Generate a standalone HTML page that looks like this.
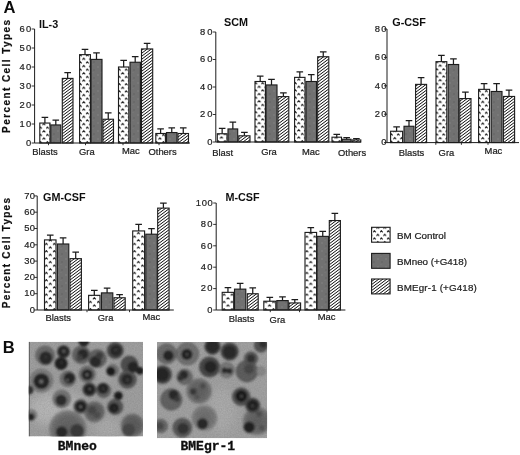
<!DOCTYPE html>
<html><head><meta charset="utf-8"><title>Figure</title>
<style>
html,body{margin:0;padding:0;background:#fff;}
body{width:520px;height:455px;overflow:hidden;font-family:"Liberation Sans",sans-serif;}
svg{display:block;}
.lb{font:9.4px "Liberation Sans",sans-serif;fill:#222;stroke:#222;stroke-width:0.22px;}
.tk{font:9.4px "Liberation Sans",sans-serif;fill:#222;stroke:#222;stroke-width:0.2px;letter-spacing:0.6px;}
.tt{font:bold 10.8px "Liberation Sans",sans-serif;fill:#111;}
.yl{font:bold 10px "Liberation Sans",sans-serif;fill:#111;stroke:#111;stroke-width:0.2px;letter-spacing:1.2px;}
.pn{font:bold 16.6px "Liberation Sans",sans-serif;fill:#111;}
.lg{font:9.8px "Liberation Sans",sans-serif;fill:#222;stroke:#222;stroke-width:0.22px;}
.mo{font:bold 13px "Liberation Mono",monospace;fill:#111;stroke:#111;stroke-width:0.35px;}
</style></head><body>
<svg width="520" height="455" viewBox="0 0 520 455">
<defs>
<g id="dotTile"><rect width="6.9" height="7.25" fill="#fff"/><path d="M-0.1 2.2L1.3 0.55L2.7 2.2M3.35 5.83L4.75 4.17L6.15 5.83" stroke="#1a1a1a" stroke-width="1.05" fill="none"/></g>
<g id="dotTile2"><rect width="7.9" height="7.25" fill="#fff"/><path d="M-0.1 2.2L1.3 0.55L2.7 2.2M3.85 5.83L5.25 4.17L6.65 5.83" stroke="#1a1a1a" stroke-width="1.05" fill="none"/></g>
<g id="hatchTile"><rect width="4" height="3" fill="#fff"/><path d="M-1 0.750L5.000 -3.750M-1 3.750L5.000 -0.750M-1 6.750L5.000 2.250" stroke="#0c0c0c" stroke-width="1.0" fill="none"/></g>
<pattern id="pDot" x="373.1" y="230.1" width="6.9" height="7.25" patternUnits="userSpaceOnUse"><use href="#dotTile"/></pattern>
<pattern id="pGrey" width="8" height="8" patternUnits="userSpaceOnUse"><rect width="8" height="8" fill="#717171"/><rect x="1" y="2" width="2" height="2" fill="#797979"/><rect x="5" y="5" width="2" height="2" fill="#6a6a6a"/><rect x="4" y="0" width="2" height="1" fill="#767676"/></pattern>
<pattern id="pHatch" x="371" y="279" width="4" height="3" patternUnits="userSpaceOnUse"><use href="#hatchTile"/></pattern>
<pattern id="d1" x="39.20" y="141.00" width="6.9" height="7.25" patternUnits="userSpaceOnUse"><use href="#dotTile"/></pattern>
<pattern id="h2" x="62" y="143" width="4" height="3" patternUnits="userSpaceOnUse"><use href="#hatchTile"/></pattern>
<pattern id="d3" x="79.00" y="141.00" width="6.9" height="7.25" patternUnits="userSpaceOnUse"><use href="#dotTile"/></pattern>
<pattern id="h4" x="103" y="143" width="4" height="3" patternUnits="userSpaceOnUse"><use href="#hatchTile"/></pattern>
<pattern id="d5" x="117.90" y="141.00" width="6.9" height="7.25" patternUnits="userSpaceOnUse"><use href="#dotTile"/></pattern>
<pattern id="h6" x="142" y="143" width="4" height="3" patternUnits="userSpaceOnUse"><use href="#hatchTile"/></pattern>
<pattern id="d7" x="155.20" y="141.00" width="6.9" height="7.25" patternUnits="userSpaceOnUse"><use href="#dotTile"/></pattern>
<pattern id="h8" x="178" y="143" width="4" height="3" patternUnits="userSpaceOnUse"><use href="#hatchTile"/></pattern>
<pattern id="d9" x="216.70" y="140.00" width="6.9" height="7.25" patternUnits="userSpaceOnUse"><use href="#dotTile"/></pattern>
<pattern id="h10" x="239" y="142" width="4" height="3" patternUnits="userSpaceOnUse"><use href="#hatchTile"/></pattern>
<pattern id="d11" x="254.40" y="140.00" width="6.9" height="7.25" patternUnits="userSpaceOnUse"><use href="#dotTile"/></pattern>
<pattern id="h12" x="278" y="142" width="4" height="3" patternUnits="userSpaceOnUse"><use href="#hatchTile"/></pattern>
<pattern id="d13" x="294.00" y="140.00" width="6.9" height="7.25" patternUnits="userSpaceOnUse"><use href="#dotTile"/></pattern>
<pattern id="h14" x="318" y="142" width="4" height="3" patternUnits="userSpaceOnUse"><use href="#hatchTile"/></pattern>
<pattern id="d15" x="331.40" y="140.00" width="6.9" height="7.25" patternUnits="userSpaceOnUse"><use href="#dotTile"/></pattern>
<pattern id="h16" x="352" y="142" width="4" height="3" patternUnits="userSpaceOnUse"><use href="#hatchTile"/></pattern>
<pattern id="d17" x="390.00" y="140.60" width="6.9" height="7.25" patternUnits="userSpaceOnUse"><use href="#dotTile"/></pattern>
<pattern id="h18" x="416" y="143" width="4" height="3" patternUnits="userSpaceOnUse"><use href="#hatchTile"/></pattern>
<pattern id="d19" x="435.40" y="140.60" width="6.9" height="7.25" patternUnits="userSpaceOnUse"><use href="#dotTile"/></pattern>
<pattern id="h20" x="460" y="143" width="4" height="3" patternUnits="userSpaceOnUse"><use href="#hatchTile"/></pattern>
<pattern id="d21" x="478.00" y="140.60" width="6.9" height="7.25" patternUnits="userSpaceOnUse"><use href="#dotTile"/></pattern>
<pattern id="h22" x="503" y="143" width="4" height="3" patternUnits="userSpaceOnUse"><use href="#hatchTile"/></pattern>
<pattern id="d23" x="45.00" y="308.00" width="7.9" height="7.25" patternUnits="userSpaceOnUse"><use href="#dotTile2"/></pattern>
<pattern id="h24" x="70" y="310" width="4" height="3" patternUnits="userSpaceOnUse"><use href="#hatchTile"/></pattern>
<pattern id="d25" x="89.10" y="308.00" width="7.9" height="7.25" patternUnits="userSpaceOnUse"><use href="#dotTile2"/></pattern>
<pattern id="h26" x="114" y="310" width="4" height="3" patternUnits="userSpaceOnUse"><use href="#hatchTile"/></pattern>
<pattern id="d27" x="133.20" y="308.00" width="7.9" height="7.25" patternUnits="userSpaceOnUse"><use href="#dotTile2"/></pattern>
<pattern id="h28" x="158" y="310" width="4" height="3" patternUnits="userSpaceOnUse"><use href="#hatchTile"/></pattern>
<pattern id="d29" x="222.70" y="308.00" width="7.9" height="7.25" patternUnits="userSpaceOnUse"><use href="#dotTile2"/></pattern>
<pattern id="h30" x="247" y="310" width="4" height="3" patternUnits="userSpaceOnUse"><use href="#hatchTile"/></pattern>
<pattern id="d31" x="264.30" y="308.00" width="7.9" height="7.25" patternUnits="userSpaceOnUse"><use href="#dotTile2"/></pattern>
<pattern id="h32" x="289" y="310" width="4" height="3" patternUnits="userSpaceOnUse"><use href="#hatchTile"/></pattern>
<pattern id="d33" x="305.50" y="308.00" width="7.9" height="7.25" patternUnits="userSpaceOnUse"><use href="#dotTile2"/></pattern>
<pattern id="h34" x="329" y="310" width="4" height="3" patternUnits="userSpaceOnUse"><use href="#hatchTile"/></pattern>
<filter id="bl" x="-5%" y="-5%" width="110%" height="110%"><feGaussianBlur stdDeviation="0.8"/></filter>
<filter id="soft" x="0" y="0" width="520" height="455" filterUnits="userSpaceOnUse"><feGaussianBlur stdDeviation="0.32"/></filter>
<filter id="grain" x="0" y="0" width="100%" height="100%"><feTurbulence type="fractalNoise" baseFrequency="0.7" numOctaves="2" seed="7" result="n"/><feColorMatrix in="n" type="matrix" values="0 0 0 0 0  0 0 0 0 0  0 0 0 0 0  0.9 0.9 0.9 0 -0.95"/></filter>
<filter id="bl3" x="-20%" y="-20%" width="140%" height="140%"><feGaussianBlur stdDeviation="5"/></filter>
<linearGradient id="bg1" x1="0" y1="0" x2="0.5" y2="1"><stop offset="0" stop-color="#9a9a9a"/><stop offset="0.45" stop-color="#a9a9a9"/><stop offset="1" stop-color="#c9c9c9"/></linearGradient>
<linearGradient id="bg2" x1="0" y1="0" x2="0" y2="1"><stop offset="0" stop-color="#a2a2a2"/><stop offset="1" stop-color="#b2b2b2"/></linearGradient>
<clipPath id="c1"><rect x="28.7" y="341.8" width="114.3" height="94.7"/></clipPath>
<clipPath id="c2"><rect x="157" y="342" width="110.1" height="96.2"/></clipPath>
</defs>
<rect width="520" height="455" fill="#fff"/>
<rect x="39.80" y="123.05" width="10.20" height="19.95" fill="url(#d1)" stroke="#1c1c1c" stroke-width="1.12"/>
<path d="M44.90 123.05V117.35M41.60 117.35H48.20" stroke="#1c1c1c" stroke-width="1.25" fill="none"/>
<rect x="50.80" y="124.95" width="10.00" height="18.05" fill="url(#pGrey)" stroke="#1c1c1c" stroke-width="1.12"/>
<path d="M55.80 124.95V120.20M52.50 120.20H59.10" stroke="#1c1c1c" stroke-width="1.25" fill="none"/>
<rect x="62.30" y="78.40" width="10.70" height="64.60" fill="url(#h2)" stroke="#1c1c1c" stroke-width="1.12"/>
<path d="M67.65 78.40V72.70M64.35 72.70H70.95" stroke="#1c1c1c" stroke-width="1.25" fill="none"/>
<rect x="79.60" y="54.65" width="10.80" height="88.35" fill="url(#d3)" stroke="#1c1c1c" stroke-width="1.12"/>
<path d="M85.00 54.65V49.33M81.70 49.33H88.30" stroke="#1c1c1c" stroke-width="1.25" fill="none"/>
<rect x="91.00" y="59.40" width="11.00" height="83.60" fill="url(#pGrey)" stroke="#1c1c1c" stroke-width="1.12"/>
<path d="M96.50 59.40V52.75M93.20 52.75H99.80" stroke="#1c1c1c" stroke-width="1.25" fill="none"/>
<rect x="103.00" y="119.25" width="10.50" height="23.75" fill="url(#h4)" stroke="#1c1c1c" stroke-width="1.12"/>
<path d="M108.25 119.25V112.98M104.95 112.98H111.55" stroke="#1c1c1c" stroke-width="1.25" fill="none"/>
<rect x="118.50" y="67.00" width="10.30" height="76.00" fill="url(#d5)" stroke="#1c1c1c" stroke-width="1.12"/>
<path d="M123.65 67.00V60.35M120.35 60.35H126.95" stroke="#1c1c1c" stroke-width="1.25" fill="none"/>
<rect x="130.00" y="62.25" width="10.40" height="80.75" fill="url(#pGrey)" stroke="#1c1c1c" stroke-width="1.12"/>
<path d="M135.20 62.25V56.55M131.90 56.55H138.50" stroke="#1c1c1c" stroke-width="1.25" fill="none"/>
<rect x="141.50" y="48.95" width="11.20" height="94.05" fill="url(#h6)" stroke="#1c1c1c" stroke-width="1.12"/>
<path d="M147.10 48.95V43.25M143.80 43.25H150.40" stroke="#1c1c1c" stroke-width="1.25" fill="none"/>
<rect x="155.80" y="133.50" width="9.60" height="9.50" fill="url(#d7)" stroke="#1c1c1c" stroke-width="1.12"/>
<path d="M160.60 133.50V128.75M157.30 128.75H163.90" stroke="#1c1c1c" stroke-width="1.25" fill="none"/>
<rect x="166.50" y="132.55" width="10.50" height="10.45" fill="url(#pGrey)" stroke="#1c1c1c" stroke-width="1.12"/>
<path d="M171.75 132.55V127.80M168.45 127.80H175.05" stroke="#1c1c1c" stroke-width="1.25" fill="none"/>
<rect x="178.00" y="133.50" width="10.50" height="9.50" fill="url(#h8)" stroke="#1c1c1c" stroke-width="1.12"/>
<path d="M183.25 133.50V127.80M179.95 127.80H186.55" stroke="#1c1c1c" stroke-width="1.25" fill="none"/>
<path d="M34.6 29.00V143.00H190" stroke="#1c1c1c" stroke-width="1" fill="none"/>
<path d="M31.60 143.00H34.6" stroke="#1c1c1c" stroke-width="0.9"/>
<path d="M31.60 124.00H34.6" stroke="#1c1c1c" stroke-width="0.9"/>
<path d="M31.60 105.00H34.6" stroke="#1c1c1c" stroke-width="0.9"/>
<path d="M31.60 86.00H34.6" stroke="#1c1c1c" stroke-width="0.9"/>
<path d="M31.60 67.00H34.6" stroke="#1c1c1c" stroke-width="0.9"/>
<path d="M31.60 48.00H34.6" stroke="#1c1c1c" stroke-width="0.9"/>
<path d="M31.60 29.00H34.6" stroke="#1c1c1c" stroke-width="0.9"/>
<path d="M48.5 143.00v2.2" stroke="#1c1c1c" stroke-width="0.9"/>
<path d="M85.5 143.00v2.2" stroke="#1c1c1c" stroke-width="0.9"/>
<path d="M123 143.00v2.2" stroke="#1c1c1c" stroke-width="0.9"/>
<path d="M159 143.00v2.2" stroke="#1c1c1c" stroke-width="0.9"/>
<rect x="217.30" y="133.75" width="9.70" height="8.25" fill="url(#d9)" stroke="#1c1c1c" stroke-width="1.12"/>
<path d="M222.15 133.75V128.25M218.85 128.25H225.45" stroke="#1c1c1c" stroke-width="1.25" fill="none"/>
<rect x="228.00" y="128.94" width="9.70" height="13.06" fill="url(#pGrey)" stroke="#1c1c1c" stroke-width="1.12"/>
<path d="M232.85 128.94V122.06M229.55 122.06H236.15" stroke="#1c1c1c" stroke-width="1.25" fill="none"/>
<rect x="238.80" y="135.81" width="11.20" height="6.19" fill="url(#h10)" stroke="#1c1c1c" stroke-width="1.12"/>
<path d="M244.40 135.81V132.38M241.10 132.38H247.70" stroke="#1c1c1c" stroke-width="1.25" fill="none"/>
<rect x="255.00" y="81.50" width="10.40" height="60.50" fill="url(#d11)" stroke="#1c1c1c" stroke-width="1.12"/>
<path d="M260.20 81.50V76.00M256.90 76.00H263.50" stroke="#1c1c1c" stroke-width="1.25" fill="none"/>
<rect x="266.00" y="84.94" width="11.00" height="57.06" fill="url(#pGrey)" stroke="#1c1c1c" stroke-width="1.12"/>
<path d="M271.50 84.94V79.44M268.20 79.44H274.80" stroke="#1c1c1c" stroke-width="1.25" fill="none"/>
<rect x="278.00" y="96.62" width="10.80" height="45.38" fill="url(#h12)" stroke="#1c1c1c" stroke-width="1.12"/>
<path d="M283.40 96.62V92.78M280.10 92.78H286.70" stroke="#1c1c1c" stroke-width="1.25" fill="none"/>
<rect x="294.60" y="77.38" width="10.40" height="64.62" fill="url(#d13)" stroke="#1c1c1c" stroke-width="1.12"/>
<path d="M299.80 77.38V71.88M296.50 71.88H303.10" stroke="#1c1c1c" stroke-width="1.25" fill="none"/>
<rect x="306.00" y="81.50" width="10.50" height="60.50" fill="url(#pGrey)" stroke="#1c1c1c" stroke-width="1.12"/>
<path d="M311.25 81.50V74.62M307.95 74.62H314.55" stroke="#1c1c1c" stroke-width="1.25" fill="none"/>
<rect x="317.70" y="56.75" width="11.10" height="85.25" fill="url(#h14)" stroke="#1c1c1c" stroke-width="1.12"/>
<path d="M323.25 56.75V51.94M319.95 51.94H326.55" stroke="#1c1c1c" stroke-width="1.25" fill="none"/>
<rect x="332.00" y="137.19" width="9.50" height="4.81" fill="url(#d15)" stroke="#1c1c1c" stroke-width="1.12"/>
<path d="M336.75 137.19V134.44M333.45 134.44H340.05" stroke="#1c1c1c" stroke-width="1.25" fill="none"/>
<rect x="342.30" y="139.25" width="8.70" height="2.75" fill="url(#pGrey)" stroke="#1c1c1c" stroke-width="1.12"/>
<path d="M346.65 139.25V137.60M343.35 137.60H349.95" stroke="#1c1c1c" stroke-width="1.25" fill="none"/>
<rect x="352.00" y="139.94" width="8.80" height="2.06" fill="url(#h16)" stroke="#1c1c1c" stroke-width="1.12"/>
<path d="M356.40 139.94V138.56M353.10 138.56H359.70" stroke="#1c1c1c" stroke-width="1.25" fill="none"/>
<path d="M215.8 32.00V142.00H361" stroke="#1c1c1c" stroke-width="1" fill="none"/>
<path d="M212.80 142.00H215.8" stroke="#1c1c1c" stroke-width="0.9"/>
<path d="M212.80 114.50H215.8" stroke="#1c1c1c" stroke-width="0.9"/>
<path d="M212.80 87.00H215.8" stroke="#1c1c1c" stroke-width="0.9"/>
<path d="M212.80 59.50H215.8" stroke="#1c1c1c" stroke-width="0.9"/>
<path d="M212.80 32.00H215.8" stroke="#1c1c1c" stroke-width="0.9"/>
<rect x="390.60" y="131.24" width="12.00" height="11.36" fill="url(#d17)" stroke="#1c1c1c" stroke-width="1.12"/>
<path d="M396.60 131.24V126.98M393.30 126.98H399.90" stroke="#1c1c1c" stroke-width="1.25" fill="none"/>
<rect x="404.00" y="126.27" width="10.00" height="16.33" fill="url(#pGrey)" stroke="#1c1c1c" stroke-width="1.12"/>
<path d="M409.00 126.27V120.59M405.70 120.59H412.30" stroke="#1c1c1c" stroke-width="1.25" fill="none"/>
<rect x="415.60" y="84.38" width="11.00" height="58.22" fill="url(#h18)" stroke="#1c1c1c" stroke-width="1.12"/>
<path d="M421.10 84.38V77.56M417.80 77.56H424.40" stroke="#1c1c1c" stroke-width="1.25" fill="none"/>
<rect x="436.00" y="61.66" width="10.80" height="80.94" fill="url(#d19)" stroke="#1c1c1c" stroke-width="1.12"/>
<path d="M441.40 61.66V55.27M438.10 55.27H444.70" stroke="#1c1c1c" stroke-width="1.25" fill="none"/>
<rect x="448.20" y="64.50" width="10.50" height="78.10" fill="url(#pGrey)" stroke="#1c1c1c" stroke-width="1.12"/>
<path d="M453.45 64.50V58.82M450.15 58.82H456.75" stroke="#1c1c1c" stroke-width="1.25" fill="none"/>
<rect x="459.80" y="98.58" width="11.20" height="44.02" fill="url(#h20)" stroke="#1c1c1c" stroke-width="1.12"/>
<path d="M465.40 98.58V92.19M462.10 92.19H468.70" stroke="#1c1c1c" stroke-width="1.25" fill="none"/>
<rect x="478.60" y="89.35" width="11.00" height="53.25" fill="url(#d21)" stroke="#1c1c1c" stroke-width="1.12"/>
<path d="M484.10 89.35V83.67M480.80 83.67H487.40" stroke="#1c1c1c" stroke-width="1.25" fill="none"/>
<rect x="491.20" y="91.48" width="10.80" height="51.12" fill="url(#pGrey)" stroke="#1c1c1c" stroke-width="1.12"/>
<path d="M496.60 91.48V83.67M493.30 83.67H499.90" stroke="#1c1c1c" stroke-width="1.25" fill="none"/>
<rect x="503.40" y="96.45" width="11.20" height="46.15" fill="url(#h22)" stroke="#1c1c1c" stroke-width="1.12"/>
<path d="M509.00 96.45V90.06M505.70 90.06H512.30" stroke="#1c1c1c" stroke-width="1.25" fill="none"/>
<path d="M387.0 29.00V142.60H519" stroke="#1c1c1c" stroke-width="1" fill="none"/>
<path d="M384.00 142.60H387.0" stroke="#1c1c1c" stroke-width="0.9"/>
<path d="M384.00 114.20H387.0" stroke="#1c1c1c" stroke-width="0.9"/>
<path d="M384.00 85.80H387.0" stroke="#1c1c1c" stroke-width="0.9"/>
<path d="M384.00 57.40H387.0" stroke="#1c1c1c" stroke-width="0.9"/>
<path d="M384.00 29.00H387.0" stroke="#1c1c1c" stroke-width="0.9"/>
<path d="M435.8 142.60v2.2" stroke="#1c1c1c" stroke-width="0.9"/>
<path d="M461.4 142.60v2.2" stroke="#1c1c1c" stroke-width="0.9"/>
<path d="M488 142.60v2.2" stroke="#1c1c1c" stroke-width="0.9"/>
<rect x="44.50" y="239.91" width="11.50" height="70.09" fill="url(#d23)" stroke="#1c1c1c" stroke-width="1.12"/>
<path d="M50.25 239.91V235.02M46.95 235.02H53.55" stroke="#1c1c1c" stroke-width="1.25" fill="none"/>
<rect x="57.40" y="243.99" width="11.40" height="66.01" fill="url(#pGrey)" stroke="#1c1c1c" stroke-width="1.12"/>
<path d="M63.10 243.99V237.79M59.80 237.79H66.40" stroke="#1c1c1c" stroke-width="1.25" fill="none"/>
<rect x="70.00" y="258.65" width="11.40" height="51.35" fill="url(#h24)" stroke="#1c1c1c" stroke-width="1.12"/>
<path d="M75.70 258.65V252.13M72.40 252.13H79.00" stroke="#1c1c1c" stroke-width="1.25" fill="none"/>
<rect x="88.60" y="295.33" width="11.40" height="14.67" fill="url(#d25)" stroke="#1c1c1c" stroke-width="1.12"/>
<path d="M94.30 295.33V290.44M91.00 290.44H97.60" stroke="#1c1c1c" stroke-width="1.25" fill="none"/>
<rect x="101.40" y="292.88" width="11.40" height="17.12" fill="url(#pGrey)" stroke="#1c1c1c" stroke-width="1.12"/>
<path d="M107.10 292.88V288.00M103.80 288.00H110.40" stroke="#1c1c1c" stroke-width="1.25" fill="none"/>
<rect x="114.00" y="297.77" width="11.20" height="12.23" fill="url(#h26)" stroke="#1c1c1c" stroke-width="1.12"/>
<path d="M119.60 297.77V294.51M116.30 294.51H122.90" stroke="#1c1c1c" stroke-width="1.25" fill="none"/>
<rect x="132.70" y="230.94" width="11.90" height="79.06" fill="url(#d27)" stroke="#1c1c1c" stroke-width="1.12"/>
<path d="M138.65 230.94V224.42M135.35 224.42H141.95" stroke="#1c1c1c" stroke-width="1.25" fill="none"/>
<rect x="145.80" y="234.20" width="11.40" height="75.80" fill="url(#pGrey)" stroke="#1c1c1c" stroke-width="1.12"/>
<path d="M151.50 234.20V228.50M148.20 228.50H154.80" stroke="#1c1c1c" stroke-width="1.25" fill="none"/>
<rect x="157.70" y="208.12" width="11.40" height="101.88" fill="url(#h28)" stroke="#1c1c1c" stroke-width="1.12"/>
<path d="M163.40 208.12V203.24M160.10 203.24H166.70" stroke="#1c1c1c" stroke-width="1.25" fill="none"/>
<path d="M37.2 195.90V310.00H173.8" stroke="#1c1c1c" stroke-width="1" fill="none"/>
<path d="M34.20 310.00H37.2" stroke="#1c1c1c" stroke-width="0.9"/>
<path d="M34.20 293.70H37.2" stroke="#1c1c1c" stroke-width="0.9"/>
<path d="M34.20 277.40H37.2" stroke="#1c1c1c" stroke-width="0.9"/>
<path d="M34.20 261.10H37.2" stroke="#1c1c1c" stroke-width="0.9"/>
<path d="M34.20 244.80H37.2" stroke="#1c1c1c" stroke-width="0.9"/>
<path d="M34.20 228.50H37.2" stroke="#1c1c1c" stroke-width="0.9"/>
<path d="M34.20 212.20H37.2" stroke="#1c1c1c" stroke-width="0.9"/>
<path d="M34.20 195.90H37.2" stroke="#1c1c1c" stroke-width="0.9"/>
<path d="M87 310.00v2.2" stroke="#1c1c1c" stroke-width="0.9"/>
<path d="M129.5 310.00v2.2" stroke="#1c1c1c" stroke-width="0.9"/>
<rect x="222.20" y="292.35" width="11.50" height="17.65" fill="url(#d29)" stroke="#1c1c1c" stroke-width="1.12"/>
<path d="M227.95 292.35V287.53M224.65 287.53H231.25" stroke="#1c1c1c" stroke-width="1.25" fill="none"/>
<rect x="234.50" y="289.13" width="11.30" height="20.87" fill="url(#pGrey)" stroke="#1c1c1c" stroke-width="1.12"/>
<path d="M240.15 289.13V283.25M236.85 283.25H243.45" stroke="#1c1c1c" stroke-width="1.25" fill="none"/>
<rect x="247.30" y="293.74" width="10.90" height="16.26" fill="url(#h30)" stroke="#1c1c1c" stroke-width="1.12"/>
<path d="M252.75 293.74V287.85M249.45 287.85H256.05" stroke="#1c1c1c" stroke-width="1.25" fill="none"/>
<rect x="263.80" y="301.23" width="12.00" height="8.77" fill="url(#d31)" stroke="#1c1c1c" stroke-width="1.12"/>
<path d="M269.80 301.23V297.48M266.50 297.48H273.10" stroke="#1c1c1c" stroke-width="1.25" fill="none"/>
<rect x="276.80" y="300.58" width="11.40" height="9.42" fill="url(#pGrey)" stroke="#1c1c1c" stroke-width="1.12"/>
<path d="M282.50 300.58V296.84M279.20 296.84H285.80" stroke="#1c1c1c" stroke-width="1.25" fill="none"/>
<rect x="289.00" y="302.94" width="11.60" height="7.06" fill="url(#h32)" stroke="#1c1c1c" stroke-width="1.12"/>
<path d="M294.80 302.94V299.73M291.50 299.73H298.10" stroke="#1c1c1c" stroke-width="1.25" fill="none"/>
<rect x="305.00" y="232.43" width="11.60" height="77.57" fill="url(#d33)" stroke="#1c1c1c" stroke-width="1.12"/>
<path d="M310.80 232.43V227.61M307.50 227.61H314.10" stroke="#1c1c1c" stroke-width="1.25" fill="none"/>
<rect x="317.00" y="236.38" width="11.50" height="73.62" fill="url(#pGrey)" stroke="#1c1c1c" stroke-width="1.12"/>
<path d="M322.75 236.38V231.25M319.45 231.25H326.05" stroke="#1c1c1c" stroke-width="1.25" fill="none"/>
<rect x="329.30" y="220.55" width="11.10" height="89.45" fill="url(#h34)" stroke="#1c1c1c" stroke-width="1.12"/>
<path d="M334.85 220.55V213.27M331.55 213.27H338.15" stroke="#1c1c1c" stroke-width="1.25" fill="none"/>
<path d="M216.2 203.00V310.00H345.4" stroke="#1c1c1c" stroke-width="1" fill="none"/>
<path d="M213.20 310.00H216.2" stroke="#1c1c1c" stroke-width="0.9"/>
<path d="M213.20 288.60H216.2" stroke="#1c1c1c" stroke-width="0.9"/>
<path d="M213.20 267.20H216.2" stroke="#1c1c1c" stroke-width="0.9"/>
<path d="M213.20 245.80H216.2" stroke="#1c1c1c" stroke-width="0.9"/>
<path d="M213.20 224.40H216.2" stroke="#1c1c1c" stroke-width="0.9"/>
<path d="M213.20 203.00H216.2" stroke="#1c1c1c" stroke-width="0.9"/>
<path d="M270.3 310.00v2.2" stroke="#1c1c1c" stroke-width="0.9"/>
<path d="M299.5 310.00v2.2" stroke="#1c1c1c" stroke-width="0.9"/>
<path d="M327 310.00v2.2" stroke="#1c1c1c" stroke-width="0.9"/>
<rect x="371.6" y="227.3" width="18.5" height="14.9" fill="url(#pDot)" stroke="#1c1c1c" stroke-width="1.1"/>
<rect x="371.6" y="253.4" width="18.5" height="14.9" fill="url(#pGrey)" stroke="#1c1c1c" stroke-width="1.1"/>
<rect x="371.6" y="279.0" width="18.5" height="14.9" fill="url(#pHatch)" stroke="#1c1c1c" stroke-width="1.1"/>
<g clip-path="url(#c1)"><rect x="28.7" y="341.8" width="114.3" height="94.7" fill="#a0a0a0"/>
<g filter="url(#bl3)"><ellipse cx="58" cy="409" rx="30" ry="17" fill="#b6b6b6"/><ellipse cx="108" cy="428" rx="14" ry="10" fill="#acacac"/><ellipse cx="104" cy="374" rx="6" ry="8" fill="#adadad"/></g>
<g filter="url(#bl)">
<circle cx="45.1" cy="355.4" r="9.50" fill="#6c6c6c" stroke="#4e4e4e" stroke-width="0.6"/>
<circle cx="63.5" cy="351.7" r="6.30" fill="#545454" stroke="#3c3c3c" stroke-width="0.6"/>
<circle cx="61.1" cy="363.4" r="6.30" fill="#454545" stroke="#323232" stroke-width="0.6"/>
<circle cx="81.4" cy="354.8" r="8.90" fill="#646464" stroke="#484848" stroke-width="0.6"/>
<circle cx="41.4" cy="380.6" r="11.40" fill="#808080" stroke="#5c5c5c" stroke-width="0.6"/>
<circle cx="67.8" cy="378.8" r="7.70" fill="#717171" stroke="#515151" stroke-width="0.6"/>
<circle cx="87.2" cy="374.2" r="8.10" fill="#717171" stroke="#515151" stroke-width="0.6"/>
<circle cx="83.8" cy="341.0" r="5.20" fill="#272727" stroke="#1c1c1c" stroke-width="0.6"/>
<circle cx="97.4" cy="358.5" r="8.90" fill="#636363" stroke="#474747" stroke-width="0.6"/>
<circle cx="115.2" cy="350.5" r="8.10" fill="#4e4e4e" stroke="#383838" stroke-width="0.6"/>
<circle cx="129.4" cy="364.6" r="8.50" fill="#4f4f4f" stroke="#393939" stroke-width="0.6"/>
<circle cx="139.8" cy="370.8" r="3.50" fill="#202020" stroke="#171717" stroke-width="0.6"/>
<circle cx="112.8" cy="370.2" r="5.90" fill="#777777" stroke="#565656" stroke-width="0.6"/>
<circle cx="127.5" cy="379.4" r="8.90" fill="#595959" stroke="#404040" stroke-width="0.6"/>
<circle cx="89.4" cy="389.5" r="6.70" fill="#525252" stroke="#3b3b3b" stroke-width="0.6"/>
<circle cx="103.5" cy="390.5" r="7.20" fill="#646464" stroke="#484848" stroke-width="0.6"/>
<circle cx="61.7" cy="398.9" r="8.90" fill="#777777" stroke="#565656" stroke-width="0.6"/>
<circle cx="80.8" cy="406.5" r="7.10" fill="#636363" stroke="#474747" stroke-width="0.6"/>
<circle cx="31.5" cy="414.9" r="5.20" fill="#808080" stroke="#5c5c5c" stroke-width="0.6"/>
<circle cx="29.3" cy="390.0" r="3.90" fill="#363636" stroke="#272727" stroke-width="0.6"/>
<radialGradient id="fz678"><stop offset="0" stop-color="#626262"/><stop offset="0.62" stop-color="#6a6a6a"/><stop offset="0.86" stop-color="#6a6a6a" stop-opacity="0.75"/><stop offset="1" stop-color="#6a6a6a" stop-opacity="0"/></radialGradient>
<circle cx="67.8" cy="428.8" r="19.98" fill="url(#fz678)"/>
<circle cx="118.3" cy="395.8" r="4.10" fill="#363636" stroke="#272727" stroke-width="0.6"/>
<circle cx="115.2" cy="406.9" r="7.70" fill="#565656" stroke="#3e3e3e" stroke-width="0.6"/>
<radialGradient id="fz943"><stop offset="0" stop-color="#595959"/><stop offset="0.62" stop-color="#616161"/><stop offset="0.86" stop-color="#616161" stop-opacity="0.75"/><stop offset="1" stop-color="#616161" stop-opacity="0"/></radialGradient>
<circle cx="94.3" cy="411.8" r="11.34" fill="url(#fz943)"/>
<radialGradient id="fz1325"><stop offset="0" stop-color="#595959"/><stop offset="0.62" stop-color="#616161"/><stop offset="0.86" stop-color="#616161" stop-opacity="0.75"/><stop offset="1" stop-color="#616161" stop-opacity="0"/></radialGradient>
<circle cx="132.5" cy="425.4" r="12.64" fill="url(#fz1325)"/>
<circle cx="45.7" cy="357.8" r="6.57" fill="#2a2a2a"/>
<circle cx="46" cy="357" r="1.04" fill="#3f3f3f"/>
<circle cx="63.5" cy="351.7" r="5.62" fill="#262626"/>
<circle cx="63.8" cy="351.2" r="1.44" fill="#686868"/>
<circle cx="61.1" cy="363.6" r="5.94" fill="#222222"/>
<circle cx="61.5" cy="362.5" r="0.96" fill="#484848"/>
<circle cx="82.8" cy="354.2" r="5.51" fill="#2c2c2c"/>
<circle cx="79.5" cy="358" r="3.18" fill="#444"/>
<circle cx="41.4" cy="381.2" r="8.06" fill="#262626"/>
<circle cx="41.2" cy="381.6" r="2.00" fill="#717171"/>
<circle cx="69.3" cy="378.2" r="5.62" fill="#262626"/>
<circle cx="67.3" cy="380.3" r="1.20" fill="#6d6d6d"/>
<circle cx="87.2" cy="374.6" r="5.72" fill="#282828"/>
<circle cx="87.0" cy="374.8" r="1.28" fill="#777777"/>
<circle cx="95.5" cy="361.5" r="5.83" fill="#2a2a2a"/>
<circle cx="99.5" cy="355.5" r="3.60" fill="#3c3c3c"/>
<circle cx="115.8" cy="350.5" r="5.94" fill="#2c2c2c"/>
<circle cx="116" cy="350" r="0.96" fill="#4c4c4c"/>
<circle cx="133.0" cy="367.0" r="5.51" fill="#262626"/>
<circle cx="110.9" cy="371.2" r="4.56" fill="#1e1e1e"/>
<circle cx="127.0" cy="379.4" r="5.94" fill="#2a2a2a"/>
<circle cx="127.5" cy="380" r="1.28" fill="#4c4c4c"/>
<circle cx="89.4" cy="389.5" r="5.51" fill="#222222"/>
<circle cx="89.8" cy="389" r="1.20" fill="#5a5a5a"/>
<circle cx="103.0" cy="388.5" r="5.51" fill="#282828"/>
<circle cx="103.2" cy="388.8" r="0.96" fill="#484848"/>
<circle cx="61.1" cy="400.2" r="5.62" fill="#2e2e2e"/>
<circle cx="80.8" cy="406.5" r="5.83" fill="#242424"/>
<circle cx="80.6" cy="406.8" r="1.28" fill="#777777"/>
<circle cx="30.9" cy="416.8" r="3.60" fill="#252525"/>
<circle cx="61.7" cy="432.2" r="5.83" fill="#2a2a2a"/>
<circle cx="77.0" cy="430.9" r="6.89" fill="#3a3a3a"/>
<circle cx="118.5" cy="395.8" r="3.39" fill="#1e1e1e"/>
<circle cx="114.0" cy="408.0" r="5.09" fill="#222222"/>
<circle cx="114.5" cy="408.3" r="0.80" fill="#484848"/>
<circle cx="92.0" cy="410.0" r="4.24" fill="#4a4a4a"/>
<circle cx="97" cy="415" r="3.18" fill="#505050"/>
<circle cx="128.5" cy="430.0" r="6.36" fill="#484848"/>
</g>
<rect x="28.7" y="341.8" width="114.3" height="94.7" filter="url(#grain)" opacity="0.09"/>
<path d="M29.099999999999998 341.8V436.5" stroke="#3a3a3a" stroke-width="0.9"/>
</g>
<g clip-path="url(#c2)"><rect x="157.0" y="342.0" width="110.1" height="96.2" fill="#a2a2a2"/>
<g filter="url(#bl3)"><ellipse cx="222" cy="410" rx="14" ry="22" fill="#acacac"/></g>
<g filter="url(#bl)">
<circle cx="166.7" cy="353.8" r="10.10" fill="#6c6c6c" stroke="#4e4e4e" stroke-width="0.6"/>
<circle cx="187.5" cy="353.8" r="11.20" fill="#727272" stroke="#525252" stroke-width="0.6"/>
<circle cx="212.5" cy="346.5" r="7.70" fill="#3a3a3a" stroke="#2a2a2a" stroke-width="0.6"/>
<circle cx="209.5" cy="367.0" r="10.10" fill="#4a4a4a" stroke="#353535" stroke-width="0.6"/>
<circle cx="162.7" cy="374.6" r="8.90" fill="#4a4a4a" stroke="#353535" stroke-width="0.6"/>
<circle cx="184.6" cy="376.9" r="7.70" fill="#6a6a6a" stroke="#4c4c4c" stroke-width="0.6"/>
<radialGradient id="fz1990"><stop offset="0" stop-color="#606060"/><stop offset="0.62" stop-color="#686868"/><stop offset="0.86" stop-color="#686868" stop-opacity="0.75"/><stop offset="1" stop-color="#686868" stop-opacity="0"/></radialGradient>
<circle cx="199.0" cy="391.0" r="13.72" fill="url(#fz1990)"/>
<circle cx="229.6" cy="351.5" r="8.70" fill="#484848" stroke="#343434" stroke-width="0.6"/>
<circle cx="226.7" cy="370.0" r="7.70" fill="#7a7a7a" stroke="#585858" stroke-width="0.6"/>
<circle cx="246.9" cy="371.2" r="10.70" fill="#5e5e5e" stroke="#444444" stroke-width="0.6"/>
<circle cx="251.0" cy="358.5" r="6.70" fill="#5c5c5c" stroke="#424242" stroke-width="0.6"/>
<circle cx="260.8" cy="371.2" r="4.30" fill="#8c8c8c" stroke="#656565" stroke-width="0.6"/>
<circle cx="261.0" cy="345.5" r="6.70" fill="#555555" stroke="#3d3d3d" stroke-width="0.6"/>
<circle cx="171.3" cy="399.5" r="10.70" fill="#646464" stroke="#484848" stroke-width="0.6"/>
<radialGradient id="fz2570"><stop offset="0" stop-color="#606060"/><stop offset="0.62" stop-color="#686868"/><stop offset="0.86" stop-color="#686868" stop-opacity="0.75"/><stop offset="1" stop-color="#686868" stop-opacity="0"/></radialGradient>
<circle cx="257.0" cy="421.0" r="15.12" fill="url(#fz2570)"/>
<radialGradient id="fz2045"><stop offset="0" stop-color="#6d6d6d"/><stop offset="0.62" stop-color="#767676"/><stop offset="0.86" stop-color="#767676" stop-opacity="0.75"/><stop offset="1" stop-color="#767676" stop-opacity="0"/></radialGradient>
<circle cx="204.5" cy="418.0" r="13.72" fill="url(#fz2045)"/>
<circle cx="182.3" cy="427.8" r="9.50" fill="#5c5c5c" stroke="#424242" stroke-width="0.6"/>
<circle cx="160.9" cy="426.0" r="6.70" fill="#6a6a6a" stroke="#4c4c4c" stroke-width="0.6"/>
<circle cx="241.2" cy="396.7" r="8.90" fill="#555555" stroke="#3d3d3d" stroke-width="0.6"/>
<circle cx="252.7" cy="405.3" r="7.20" fill="#4a4a4a" stroke="#353535" stroke-width="0.6"/>
<circle cx="249.2" cy="427.2" r="5.50" fill="#3a3a3a" stroke="#2a2a2a" stroke-width="0.6"/>
<circle cx="168.4" cy="355.6" r="5.28" fill="#262626"/>
<circle cx="186.9" cy="354.4" r="5.57" fill="#222222"/>
<circle cx="187" cy="354.5" r="1.44" fill="#4e4e4e"/>
<circle cx="212.5" cy="346.5" r="5.76" fill="#2a2a2a"/>
<circle cx="210.5" cy="367.0" r="6.24" fill="#262626"/>
<circle cx="162.2" cy="374.6" r="7.01" fill="#272727"/>
<circle cx="183.8" cy="374.8" r="4.42" fill="#2a2a2a"/>
<circle cx="180.5" cy="378" r="2.88" fill="#333"/>
<circle cx="193.2" cy="391.5" r="3.36" fill="#3a3a3a"/>
<circle cx="203" cy="386" r="2.88" fill="#505050"/>
<circle cx="197" cy="397" r="2.50" fill="#545454"/>
<circle cx="229.6" cy="352.0" r="6.72" fill="#2c2c2c"/>
<circle cx="224.5" cy="370.5" r="2.88" fill="#2a2a2a"/>
<circle cx="229.5" cy="371.0" r="2.88" fill="#2a2a2a"/>
<circle cx="249.0" cy="369.0" r="4.80" fill="#484848"/>
<circle cx="251.0" cy="358.5" r="4.03" fill="#303030"/>
<circle cx="263.0" cy="344.0" r="3.84" fill="#333333"/>
<circle cx="173.6" cy="394.9" r="4.99" fill="#2c2c2c"/>
<circle cx="177" cy="399" r="2.88" fill="#3a3a3a"/>
<circle cx="259" cy="414" r="2.88" fill="#505050"/>
<circle cx="262" cy="428" r="2.88" fill="#555555"/>
<circle cx="202.5" cy="423.8" r="5.57" fill="#2a2a2a"/>
<circle cx="183.0" cy="428.5" r="5.76" fill="#363636"/>
<circle cx="160.0" cy="426.0" r="3.84" fill="#4c4c4c"/>
<circle cx="241.2" cy="396.1" r="6.05" fill="#1e1e1e"/>
<circle cx="241.5" cy="396.3" r="1.28" fill="#575757"/>
<circle cx="252.7" cy="405.3" r="5.57" fill="#222222"/>
<circle cx="252.5" cy="406" r="1.44" fill="#484848"/>
<circle cx="249.2" cy="427.2" r="4.80" fill="#222222"/>
</g>
<rect x="157.0" y="342.0" width="110.1" height="96.2" filter="url(#grain)" opacity="0.09"/>
</g>
<g filter="url(#soft)">
<text x="3.4" y="13.4" class="pn">A</text>
<text x="2.7" y="353.4" class="pn">B</text>
<text transform="translate(10.4,132.9) rotate(-90)" class="yl" style="letter-spacing:1.42px">Percent Cell Types</text>
<text transform="translate(10.3,308.2) rotate(-90)" class="yl" style="letter-spacing:1.26px">Percent Cell Types</text>
<text x="32.2" y="155" class="lb">Blasts</text>
<text x="79.0" y="155" class="lb">Gra</text>
<text x="122" y="154" class="lb">Mac</text>
<text x="148.5" y="154.5" class="lb">Others</text>
<text x="32.70" y="145.70" class="tk" text-anchor="end" style="letter-spacing:1.4px">0</text>
<text x="32.70" y="126.70" class="tk" text-anchor="end" style="letter-spacing:1.4px">10</text>
<text x="32.70" y="107.70" class="tk" text-anchor="end" style="letter-spacing:1.4px">20</text>
<text x="32.70" y="88.70" class="tk" text-anchor="end" style="letter-spacing:1.4px">30</text>
<text x="32.70" y="69.70" class="tk" text-anchor="end" style="letter-spacing:1.4px">40</text>
<text x="32.70" y="50.70" class="tk" text-anchor="end" style="letter-spacing:1.4px">50</text>
<text x="32.70" y="31.70" class="tk" text-anchor="end" style="letter-spacing:1.4px">60</text>
<text x="39.0" y="28.0" class="tt">IL-3</text>
<text x="212.2" y="155.5" class="lb">Blast</text>
<text x="261.2" y="154.5" class="lb">Gra</text>
<text x="302" y="154.5" class="lb">Mac</text>
<text x="338" y="155.5" class="lb">Others</text>
<text x="214.30" y="144.70" class="tk" text-anchor="end" style="letter-spacing:1.9px">0</text>
<text x="214.30" y="117.20" class="tk" text-anchor="end" style="letter-spacing:1.9px">20</text>
<text x="214.30" y="89.70" class="tk" text-anchor="end" style="letter-spacing:1.9px">40</text>
<text x="214.30" y="62.20" class="tk" text-anchor="end" style="letter-spacing:1.9px">60</text>
<text x="214.30" y="34.70" class="tk" text-anchor="end" style="letter-spacing:1.9px">80</text>
<text x="224" y="26" class="tt">SCM</text>
<text x="398.7" y="155.5" class="lb">Blasts</text>
<text x="438.6" y="155.5" class="lb">Gra</text>
<text x="484.6" y="154" class="lb">Mac</text>
<text x="387.60" y="145.30" class="tk" text-anchor="end" style="letter-spacing:1.2px">0</text>
<text x="387.60" y="116.90" class="tk" text-anchor="end" style="letter-spacing:1.2px">20</text>
<text x="387.60" y="88.50" class="tk" text-anchor="end" style="letter-spacing:1.2px">40</text>
<text x="387.60" y="60.10" class="tk" text-anchor="end" style="letter-spacing:1.2px">60</text>
<text x="387.60" y="31.70" class="tk" text-anchor="end" style="letter-spacing:1.2px">80</text>
<text x="392.3" y="25.6" class="tt">G-CSF</text>
<text x="45.5" y="320.7" class="lb">Blasts</text>
<text x="97.8" y="320.7" class="lb">Gra</text>
<text x="142.5" y="319.7" class="lb">Mac</text>
<text x="35.20" y="312.70" class="tk" text-anchor="end" style="letter-spacing:0.3px">0</text>
<text x="35.20" y="296.40" class="tk" text-anchor="end" style="letter-spacing:0.3px">10</text>
<text x="35.20" y="280.10" class="tk" text-anchor="end" style="letter-spacing:0.3px">20</text>
<text x="35.20" y="263.80" class="tk" text-anchor="end" style="letter-spacing:0.3px">30</text>
<text x="35.20" y="247.50" class="tk" text-anchor="end" style="letter-spacing:0.3px">40</text>
<text x="35.20" y="231.20" class="tk" text-anchor="end" style="letter-spacing:0.3px">50</text>
<text x="35.20" y="214.90" class="tk" text-anchor="end" style="letter-spacing:0.3px">60</text>
<text x="35.20" y="198.60" class="tk" text-anchor="end" style="letter-spacing:0.3px">70</text>
<text x="43" y="200.8" class="tt">GM-CSF</text>
<text x="228.8" y="322.2" class="lb">Blasts</text>
<text x="269.6" y="323" class="lb">Gra</text>
<text x="317.8" y="319.8" class="lb">Mac</text>
<text x="213.60" y="312.70" class="tk" text-anchor="end" style="letter-spacing:1.2px">0</text>
<text x="213.60" y="291.30" class="tk" text-anchor="end" style="letter-spacing:1.2px">20</text>
<text x="213.60" y="269.90" class="tk" text-anchor="end" style="letter-spacing:1.2px">40</text>
<text x="213.60" y="248.50" class="tk" text-anchor="end" style="letter-spacing:1.2px">60</text>
<text x="213.60" y="227.10" class="tk" text-anchor="end" style="letter-spacing:1.2px">80</text>
<text x="213.60" y="205.70" class="tk" text-anchor="end" style="letter-spacing:0.75px">100</text>
<text x="225.4" y="200.8" class="tt">M-CSF</text>
<text x="397" y="238.8" class="lg" style="letter-spacing:0">BM Control</text>
<text x="397" y="265" class="lg" style="letter-spacing:0">BMneo (+G418)</text>
<text x="397" y="290.7" class="lg" style="letter-spacing:0.16px">BMEgr-1 (+G418)</text>
<text x="57.8" y="449.9" class="mo">BMneo</text>
<text x="180.5" y="449.9" class="mo">BMEgr-1</text>
</g>
</svg></body></html>
